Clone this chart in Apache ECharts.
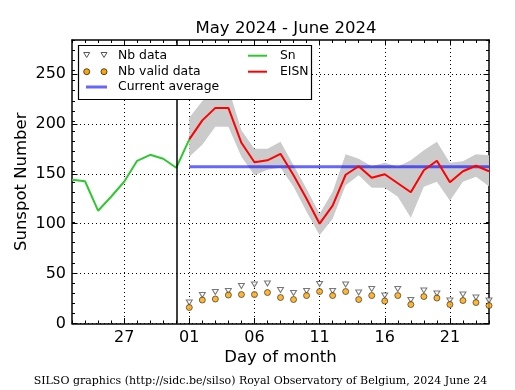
<!DOCTYPE html>
<html><head><meta charset="utf-8">
<script src="https://cdn.jsdelivr.net/npm/echarts@6/dist/echarts.min.js"></script>
<style>html,body{margin:0;padding:0;background:#fff}#c{width:515px;height:390px}</style>
</head><body><div id="c"></div>
<script>
// x = day offset from 1 June 2024 (May 23 = -9, June 24 = 23)
const snDays = [-9, -8, -7, -6, -5, -4, -3, -2, -1, 0];
const snValues = [144, 142.5, 113, 127, 142, 163, 169, 165, 156, 184.5];
const eisnDays = [0, 1, 2, 3, 4, 5, 6, 7, 8, 9, 10, 11, 12, 13, 14, 15, 16, 17, 18, 19, 20, 21, 22, 23];
const eisnValues = [184.5, 203.5, 216, 216, 181, 161.5, 163.5, 170, 148.5, 125, 100, 118, 149, 157.5, 146, 149.5, 140.5, 131.5, 153.5, 163, 141.5, 152.5, 158, 152.5];
const eisnUpper = [206, 223, 234, 236, 193.5, 175, 175, 182, 158.5, 135, 110, 132, 169.5, 165, 157.5, 161, 157, 163.5, 173.5, 182, 161, 162.5, 169.5, 168.5];
const eisnLower = [167, 179, 197, 197, 167, 148.5, 154, 156, 137, 112, 88.5, 105, 138.5, 148.5, 136, 136, 127, 106, 137, 142, 123, 142, 147, 137.5];
const nbData = [21, 28.5, 31.5, 32.5, 37.5, 39, 40, 33.5, 30.5, 32.5, 39.5, 32.5, 39, 31, 34.5, 28, 34.5, 23.5, 33, 30, 23, 29, 26, 23];
const nbValid = [16, 23.5, 24.5, 28.5, 29, 29, 31, 26, 24, 28, 32, 28, 32, 24, 28, 22.5, 28, 19, 27, 25.5, 19, 23, 21, 18];
const currentAverage = [157];
const monthStart = [-1];
const xRange = [-9, 23];
const yRange = [0, 284];
const xTickValues = [-5, 0, 5, 10, 15, 20];
const xTickLabels = ['27', '01', '06', '11', '16', '21'];
const yTickValues = [0, 50, 100, 150, 200, 250];

const FONT = 'DejaVu Sans';
const pair = (xs, ys) => xs.map((x, i) => [x, ys[i]]);

function majorX(pos, labels) {
  return {
    type: 'value', position: pos, min: xRange[0], max: xRange[1],
    axisLine: { show: true, onZero: false, lineStyle: { color: '#000', width: 1.5 } },
    axisTick: { show: true, inside: true, length: 5.5, customValues: xTickValues, lineStyle: { color: '#000', width: 1 } },
    axisLabel: labels ? {
      show: true, customValues: xTickValues, margin: 6, color: '#000', fontSize: 16, fontFamily: FONT,
      formatter: v => xTickLabels[xTickValues.indexOf(v)]
    } : { show: false },
    splitLine: { show: labels, lineStyle: { color: '#000', width: 1, type: [1, 3] } },
    name: labels ? 'Day of month' : '', nameLocation: 'middle', nameGap: 26, nameMoveOverlap: false,
    nameTextStyle: { color: '#000', fontSize: 16.5, fontFamily: FONT }
  };
}
function minorX(pos) {
  return {
    type: 'value', position: pos, min: xRange[0], max: xRange[1], interval: 1,
    axisLine: { show: false, onZero: false },
    axisTick: { show: true, inside: true, length: 3, lineStyle: { color: '#000', width: 1 } },
    axisLabel: { show: false }, splitLine: { show: false }
  };
}
function majorY(pos, labels) {
  return {
    type: 'value', position: pos, min: yRange[0], max: yRange[1],
    axisLine: { show: true, onZero: false, lineStyle: { color: '#000', width: 1.5 } },
    axisTick: { show: true, inside: true, length: 5.5, customValues: yTickValues, lineStyle: { color: '#000', width: 1 } },
    axisLabel: labels ? { show: true, customValues: yTickValues, margin: 6, color: '#000', fontSize: 16, fontFamily: FONT } : { show: false },
    splitLine: { show: labels, lineStyle: { color: '#000', width: 1, type: [1, 3] } },
    name: labels ? 'Sunspot Number' : '', nameLocation: 'middle', nameGap: 42, nameMoveOverlap: false,
    nameTextStyle: { color: '#000', fontSize: 16.5, fontFamily: FONT }
  };
}
function minorY(pos) {
  return {
    type: 'value', position: pos, min: yRange[0], max: 280, interval: 10,
    axisLine: { show: false, onZero: false },
    axisTick: { show: true, inside: true, length: 3, lineStyle: { color: '#000', width: 1 } },
    axisLabel: { show: false }, splitLine: { show: false }
  };
}

const chart = echarts.init(document.getElementById('c'), null, { renderer: 'canvas' });

const legendFont = { fontSize: 12.4, fontFamily: FONT, fill: '#000', verticalAlign: 'middle', align: 'left' };
function tri(x, y) {
  return { type: 'polygon', z: 101, shape: { points: [[x - 3, y - 2.5], [x + 3, y - 2.5], [x, y + 2.5]] },
    style: { fill: '#fff', stroke: '#555', lineWidth: 1 } };
}
function dot(x, y) {
  return { type: 'circle', z: 101, shape: { cx: x, cy: y, r: 3 }, style: { fill: '#ffa500', stroke: '#222', lineWidth: 0.8 } };
}

chart.setOption({
  animation: false,
  backgroundColor: '#fff',
  title: {
    text: 'May 2024 - June 2024', left: 281, top: 15, textAlign: 'center',
    textStyle: { color: '#000', fontSize: 16.5, fontWeight: 'normal', fontFamily: FONT }
  },
  grid: { left: 72, right: 26, top: 40, bottom: 66.5, containLabel: false, outerBoundsMode: 'none' },
  xAxis: [majorX('bottom', true), minorX('bottom'), majorX('top', false), minorX('top')],
  yAxis: [majorY('left', true), minorY('left'), majorY('right', false), minorY('right')],
  series: [
    {
      type: 'custom', name: 'band', xAxisIndex: 0, yAxisIndex: 0, z: 1, clip: true,
      data: eisnDays.map((d, i) => [d, eisnUpper[i], eisnLower[i]]),
      encode: { x: 0, y: [1, 2] },
      renderItem: (params, api) => {
        if (params.dataIndex !== 0) return null;
        const pts = [];
        for (let i = 0; i < eisnDays.length; i++) pts.push(api.coord([eisnDays[i], eisnUpper[i]]));
        for (let i = eisnDays.length - 1; i >= 0; i--) pts.push(api.coord([eisnDays[i], eisnLower[i]]));
        return { type: 'polygon', shape: { points: pts }, style: { fill: '#cbcbcb' } };
      }
    },
    {
      type: 'line', name: 'Current average', z: 2, symbol: 'none', clip: true,
      data: [[eisnDays[0], currentAverage[0]], [eisnDays[eisnDays.length - 1], currentAverage[0]]],
      lineStyle: { color: 'rgba(0,0,255,0.6)', width: 3 }
    },
    {
      type: 'line', name: 'Sn', z: 3, symbol: 'none', clip: true,
      data: pair(snDays, snValues),
      lineStyle: { color: '#30c830', width: 2 },
      markLine: {
        silent: true, symbol: 'none', label: { show: false },
        lineStyle: { color: '#000', type: 'solid', width: 1.5 },
        data: [{ xAxis: monthStart[0] }]
      }
    },
    {
      type: 'line', name: 'EISN', z: 4, symbol: 'none', clip: true,
      data: pair(eisnDays, eisnValues),
      lineStyle: { color: '#ff0000', width: 2 }
    },
    {
      type: 'scatter', name: 'Nb data', z: 5, symbol: 'triangle', symbolRotate: 180, symbolSize: [6, 5],
      data: pair(eisnDays, nbData),
      itemStyle: { color: '#fff', borderColor: '#555', borderWidth: 1 }
    },
    {
      type: 'scatter', name: 'Nb valid data', z: 6, symbol: 'circle', symbolSize: 6,
      data: pair(eisnDays, nbValid),
      itemStyle: { color: '#ffa500', borderColor: '#222', borderWidth: 0.8 }
    }
  ],
  graphic: [
    { type: 'rect', z: 100, shape: { x: 78.5, y: 45.5, width: 233, height: 54 }, style: { fill: '#fff', stroke: '#000', lineWidth: 1.2 } },
    tri(86.7, 55), tri(104, 55),
    dot(86.7, 71.7), dot(104, 71.7),
    { type: 'line', z: 101, shape: { x1: 86, y1: 87, x2: 107, y2: 87 }, style: { stroke: 'rgba(0,0,255,0.6)', lineWidth: 3 } },
    { type: 'line', z: 101, shape: { x1: 248, y1: 55.7, x2: 267, y2: 55.7 }, style: { stroke: '#30c830', lineWidth: 2 } },
    { type: 'line', z: 101, shape: { x1: 248, y1: 71.7, x2: 267, y2: 71.7 }, style: { stroke: '#ff0000', lineWidth: 2 } },
    { type: 'text', z: 101, x: 118, y: 55.5, style: Object.assign({ text: 'Nb data' }, legendFont) },
    { type: 'text', z: 101, x: 118, y: 71.7, style: Object.assign({ text: 'Nb valid data' }, legendFont) },
    { type: 'text', z: 101, x: 118, y: 86.7, style: Object.assign({ text: 'Current average' }, legendFont) },
    { type: 'text', z: 101, x: 280, y: 55.5, style: Object.assign({ text: 'Sn' }, legendFont) },
    { type: 'text', z: 101, x: 280, y: 71.7, style: Object.assign({ text: 'EISN' }, legendFont) },
    { type: 'text', z: 101, x: 260.5, y: 381.5, style: { text: 'SILSO graphics (http://sidc.be/silso) Royal Observatory of Belgium, 2024 June 24',
      fontSize: 11, fontFamily: 'DejaVu Serif', fill: '#000', align: 'center', verticalAlign: 'middle' } }
  ]
});
</script></body></html>
